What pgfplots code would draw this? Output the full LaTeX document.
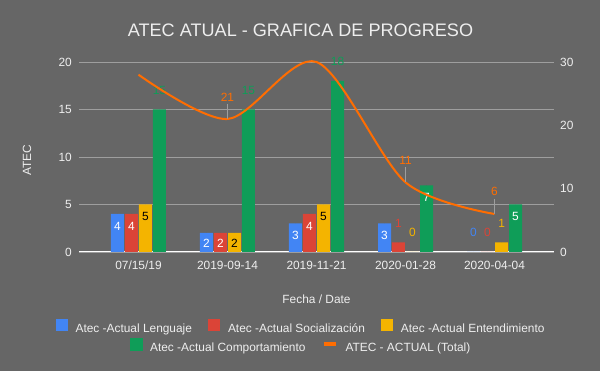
\documentclass[border=0pt]{standalone}
\usepackage{fontspec}
\setmainfont{Liberation Sans}
\usepackage{pgfplots}
\pgfplotsset{compat=1.18}
\definecolor{bg}{HTML}{666666}
\definecolor{txt}{HTML}{EEEEEE}
\definecolor{gridc}{HTML}{9E9E9E}
\definecolor{cblue}{HTML}{4285F4}
\definecolor{cred}{HTML}{DB4437}
\definecolor{cyellow}{HTML}{F4B400}
\definecolor{cgreen}{HTML}{0F9D58}
\definecolor{corange}{HTML}{FF6D01}
\newcommand{\lf}{\fontsize{11.9}{13}\selectfont}
\pgfplotsset{
  sq/.style={legend image code/.code={\fill[#1] (0pt,-1.75pt) rectangle (12pt,10.25pt);}},
  lbl/.style 2 args={only marks, mark=*, mark size=0pt, mark options={draw=none,fill=none}, forget plot,
    nodes near coords, point meta=y,
    every node near coord/.append style={font=\lf, inner sep=0pt, anchor=south, text=#1, yshift=#2}},
  base/.style={at={(79pt,119pt)}, anchor=south west, scale only axis, width=475pt, height=190pt,
    xmin=-0.668, xmax=4.668, ymin=0,
    tick style={draw=none}, major tick length=0pt,
    tick label style={font=\lf, text=txt},
    /pgf/number format/assume math mode=true,
    legend style={draw=none, fill=none, font=\lf, text=txt, inner sep=0pt, nodes={inner sep=0pt},
      /tikz/every odd column/.append style={column sep=8pt},
      /tikz/every even column/.append style={column sep=16pt}},
  },
}
\begin{document}
\begin{tikzpicture}
\useasboundingbox (0pt,0pt) rectangle (600pt,371pt);
\fill[bg] (0pt,0pt) rectangle (600pt,371pt);
\begin{axis}[base, ymax=20, ytick={0,5,10,15,20},
  xtick={0,1,2,3,4}, xticklabels={07/15/19,2019-09-14,2019-11-21,2020-01-28,2020-04-04},
  axis x line*=bottom, axis y line*=left,
  x axis line style={white, line width=1pt}, y axis line style={draw=none},
  ymajorgrids, grid style={gridc, line width=0.8pt},
  xticklabel style={anchor=base, inner sep=0pt, yshift=-18pt},
  yticklabel style={anchor=east, inner sep=0pt, xshift=-7pt},
  xlabel={Fecha / Date}, xlabel style={at={(axis description cs:0.5,-0.2474)}, anchor=center, font=\lf, text=txt, inner sep=0pt},
  ylabel={ATEC}, ylabel style={at={(axis description cs:-0.1095,0.484)}, anchor=center, font=\lf, text=txt, inner sep=0pt},
  legend columns=3,
  legend style={at={(axis description cs:0.4653,-0.3913)}, anchor=center},
]
\addplot[ybar, bar width=0.146, bar shift=-0.236, fill=cblue, draw=none, sq=cblue] coordinates {(0,4)(1,2)(2,3)(3,3)(4,0)};
\addlegendentry{Atec -Actual Lenguaje}
\addplot[ybar, bar width=0.146, bar shift=-0.079, fill=cred, draw=none, sq=cred] coordinates {(0,4)(1,2)(2,4)(3,1)(4,0)};
\addlegendentry{Atec -Actual Socialización}
\addplot[ybar, bar width=0.146, bar shift=0.079, fill=cyellow, draw=none, sq=cyellow] coordinates {(0,5)(1,2)(2,5)(3,0)(4,1)};
\addlegendentry{Atec -Actual Entendimiento}
\addplot[ybar, bar width=0.146, bar shift=0.236, fill=cgreen, draw=none, forget plot] coordinates {(0,15)(1,15)(2,18)(3,7)(4,5)};
\addplot[lbl={white}{-16.25pt}] coordinates {(-0.236,4)(1.764,3)(2.764,3)(-0.079,4)(1.921,4)(3.236,7)(4.236,5)};
\addplot[lbl={white}{-14.25pt}] coordinates {(0.764,2)(0.921,2)};
\addplot[lbl={black}{-16.25pt}] coordinates {(0.079,5)(2.079,5)};
\addplot[lbl={black}{-14.25pt}] coordinates {(1.079,2)};
\addplot[lbl={cblue}{14.75pt}] coordinates {(3.764,0)};
\addplot[lbl={cred}{14.75pt}] coordinates {(2.921,1)(3.921,0)};
\addplot[lbl={cyellow}{14.75pt}] coordinates {(3.079,0)(4.079,1)};
\addplot[lbl={cgreen}{14.75pt}] coordinates {(0.236,15)(1.236,15)(2.236,18)};
\end{axis}
\begin{axis}[base, ymax=30, ytick={0,10,20,30}, xtick=\empty,
  axis y line*=right, hide x axis, y axis line style={draw=none},
  yticklabel style={anchor=west, inner sep=0pt, xshift=6pt},
  clip=false,
  legend columns=2,
  legend style={at={(axis description cs:0.4653,-0.4913)}, anchor=center},
]
\addlegendimage{sq=cgreen}
\addlegendentry{Atec -Actual Comportamiento}
\addplot[corange, line width=2pt, smooth, tension=0.5,
  legend image code/.code={\draw[corange, line width=4pt] (0pt,4.25pt) -- (12pt,4.25pt);}]
  coordinates {(0,28)(1,21)(2,30)(3,11)(4,6)};
\addlegendentry{ATEC - ACTUAL (Total)}
\addplot[only marks, mark=*, mark size=0pt, mark options={draw=none,fill=none}, forget plot,
  error bars/.cd, y dir=plus, y explicit, error mark=none, error bar style={gridc, line width=0.7pt}]
  coordinates {(1,21) +- (0,2.37) (3,11) +- (0,2.37) (4,6) +- (0,2.37)};
\addplot[lbl={corange}{17.75pt}] coordinates {(1,21)(3,11)(4,6)};
\end{axis}
\node[font=\fontsize{18.1}{20}\selectfont, text=txt, anchor=base] at (300.5pt,334pt) {ATEC ATUAL - GRAFICA DE PROGRESO};
\end{tikzpicture}
\end{document}
